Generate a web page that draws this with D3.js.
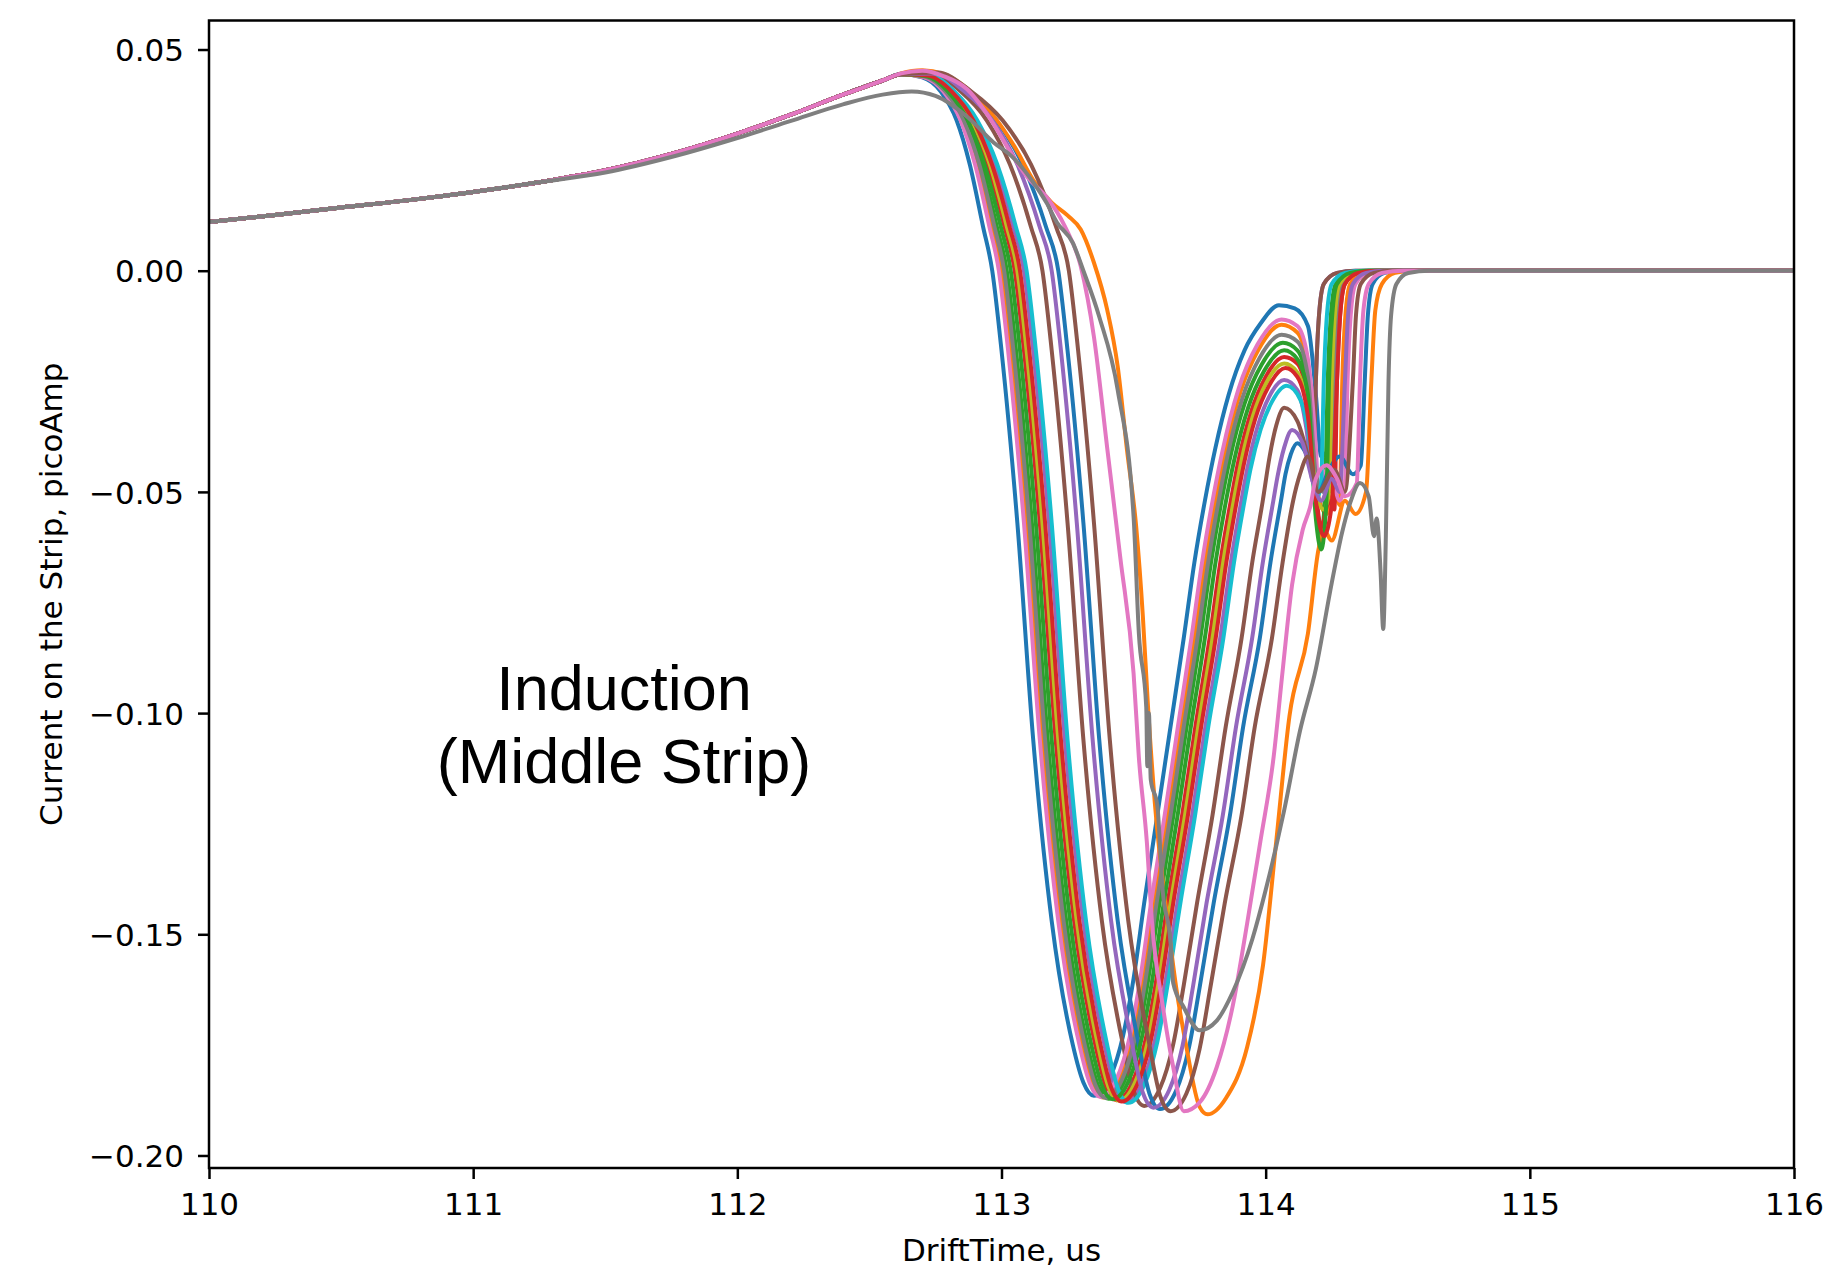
<!DOCTYPE html>
<html><head><meta charset="utf-8">
<script src="https://cdn.jsdelivr.net/npm/d3@7"></script>
<style>html,body{margin:0;padding:0;background:#fff;} svg{display:block;}</style>
</head><body>
<svg id="chart" width="1823" height="1268"></svg>
<script>
// ---------- text / ticks ----------
const xTicks = [110, 111, 112, 113, 114, 115, 116];
const xTickLabels = ["110", "111", "112", "113", "114", "115", "116"];
const yTicks = [0.05, 0.00, -0.05, -0.10, -0.15, -0.20];
const yTickLabels = ["0.05", "0.00", "\u22120.05", "\u22120.10", "\u22120.15", "\u22120.20"];
const xTitle = "DriftTime, us";
const yTitle = "Current on the Strip, picoAmp";
const noteLines = ["Induction", "(Middle Strip)"];
const palette = ["#1f77b4", "#ff7f0e", "#2ca02c", "#d62728", "#9467bd", "#8c564b", "#e377c2", "#7f7f7f", "#bcbd22", "#17becf"];

// ---------- data: [time (us), current (pA)] ----------
// shared slow rise, identical for all traces
const commonRise = [[110.0,0.0110],[110.25,0.0126],[110.5,0.0143],[110.75,0.0159],[111.0,0.0178],[111.25,0.0200],[111.5,0.0227],[111.75,0.0264],[112.0,0.0310],[112.2,0.0352],[112.4,0.0398],[112.55,0.0430]];

const blueA = [[112.62,0.0444],[112.70,0.0437],[112.77,0.0405],[112.83,0.0340],[112.88,0.0240],[112.93,0.0100],[112.965,0],[113.00,-0.018],[113.06,-0.057],[113.12,-0.106],[113.19,-0.147],[113.27,-0.175],[113.31,-0.1835],[113.35,-0.1865],[113.41,-0.1825],[113.46,-0.173],[113.50,-0.160],[113.54,-0.143],[113.59,-0.123],[113.64,-0.103],[113.69,-0.083],[113.73,-0.066],[113.77,-0.052],[113.81,-0.040],[113.86,-0.028],[113.92,-0.018],[113.98,-0.012],[114.05,-0.0078],[114.11,-0.0085],[114.16,-0.0125],[114.19,-0.028],[114.21,-0.042],[114.24,-0.040],[114.25,-0.025],[114.262,-0.010],[114.28,-0.003],[114.33,-0.0005],[114.40,0],[116,0]];
const orangeA = [[112.62,0.0444],[112.707,0.0438],[112.784,0.0405],[112.851,0.034],[112.908,0.024],[112.963,0.010],[113.0,0],[113.035,-0.018],[113.095,-0.057],[113.155,-0.106],[113.225,-0.147],[113.305,-0.175],[113.345,-0.1839],[113.385,-0.1869],[113.445,-0.1829],[113.495,-0.1734],[113.535,-0.1603],[113.577,-0.143],[113.629,-0.123],[113.679,-0.103],[113.73,-0.083],[113.77,-0.066],[113.81,-0.052],[113.845,-0.0413],[113.905,-0.0273],[113.973,-0.0178],[114.06,-0.0122],[114.12,-0.014],[114.16,-0.022],[114.19,-0.048],[114.23,-0.055],[114.26,-0.050],[114.28,-0.053],[114.29,-0.025],[114.302,-0.010],[114.32,-0.003],[114.37,-0.0005],[114.44,0],[116,0]];
const greenA = [[112.62,0.0444],[112.711,0.0439],[112.792,0.0405],[112.863,0.034],[112.924,0.024],[112.982,0.010],[113.02,0],[113.055,-0.018],[113.115,-0.057],[113.175,-0.106],[113.245,-0.147],[113.325,-0.175],[113.365,-0.1841],[113.405,-0.1872],[113.465,-0.1832],[113.515,-0.1736],[113.555,-0.1604],[113.598,-0.143],[113.651,-0.123],[113.701,-0.103],[113.753,-0.083],[113.793,-0.066],[113.833,-0.052],[113.865,-0.0424],[113.921,-0.0299],[113.984,-0.0213],[114.065,-0.0163],[114.12,-0.018],[114.16,-0.026],[114.19,-0.052],[114.21,-0.060],[114.225,-0.050],[114.235,-0.025],[114.247,-0.010],[114.265,-0.003],[114.31,-0.0005],[114.38,0],[116,0]];
const redA = [[112.62,0.0444],[112.717,0.044],[112.804,0.0405],[112.881,0.034],[112.948,0.024],[113.011,0.010],[113.05,0],[113.085,-0.018],[113.145,-0.057],[113.205,-0.106],[113.275,-0.147],[113.355,-0.175],[113.395,-0.1844],[113.435,-0.1875],[113.495,-0.1835],[113.545,-0.1739],[113.585,-0.1607],[113.629,-0.143],[113.684,-0.123],[113.734,-0.103],[113.788,-0.083],[113.828,-0.066],[113.868,-0.052],[113.896,-0.0432],[113.945,-0.0319],[114.0,-0.024],[114.07,-0.0195],[114.12,-0.021],[114.16,-0.030],[114.19,-0.050],[114.21,-0.058],[114.24,-0.052],[114.26,-0.054],[114.27,-0.025],[114.282,-0.010],[114.30,-0.003],[114.35,-0.0005],[114.42,0],[116,0]];
const purpleA = [[112.62,0.0444],[112.724,0.0442],[112.818,0.0405],[112.902,0.034],[112.976,0.024],[113.044,0.010],[113.085,0],[113.12,-0.018],[113.18,-0.057],[113.24,-0.106],[113.31,-0.147],[113.39,-0.175],[113.43,-0.1847],[113.47,-0.1879],[113.53,-0.1839],[113.58,-0.1742],[113.62,-0.161],[113.666,-0.143],[113.722,-0.123],[113.772,-0.103],[113.828,-0.083],[113.868,-0.066],[113.908,-0.052],[113.931,-0.0446],[113.97,-0.0351],[114.013,-0.0285],[114.07,-0.0247],[114.12,-0.027],[114.155,-0.036],[114.18,-0.048],[114.19,-0.025],[114.202,-0.010],[114.22,-0.003],[114.27,-0.0005],[114.34,0],[116,0]];
const brownA = [[112.62,0.0444],[112.738,0.0445],[112.846,0.0405],[112.944,0.034],[113.032,0.024],[113.111,0.010],[113.155,0],[113.19,-0.018],[113.25,-0.057],[113.31,-0.106],[113.38,-0.147],[113.46,-0.175],[113.50,-0.1854],[113.54,-0.1888],[113.60,-0.1848],[113.65,-0.1749],[113.69,-0.1615],[113.74,-0.143],[113.799,-0.123],[113.849,-0.103],[113.909,-0.083],[113.949,-0.066],[113.989,-0.052],[114.015,-0.042],[114.04,-0.035],[114.07,-0.031],[114.12,-0.034],[114.16,-0.042],[114.18,-0.047],[114.19,-0.025],[114.202,-0.010],[114.22,-0.003],[114.27,-0.0005],[114.34,0],[116,0]];
const pinkA = [[112.62,0.0444],[112.705,0.0438],[112.78,0.0405],[112.845,0.034],[112.90,0.024],[112.954,0.010],[112.99,0],[113.025,-0.018],[113.085,-0.057],[113.145,-0.106],[113.215,-0.147],[113.295,-0.175],[113.335,-0.1838],[113.375,-0.1868],[113.435,-0.1828],[113.485,-0.1733],[113.525,-0.1602],[113.566,-0.143],[113.618,-0.123],[113.668,-0.103],[113.719,-0.083],[113.759,-0.066],[113.799,-0.052],[113.836,-0.0409],[113.898,-0.0266],[113.969,-0.0167],[114.06,-0.011],[114.12,-0.0125],[114.16,-0.020],[114.19,-0.040],[114.20,-0.050],[114.24,-0.044],[114.28,-0.052],[114.30,-0.048],[114.31,-0.025],[114.322,-0.010],[114.34,-0.003],[114.39,-0.0005],[114.46,0],[116,0]];
const grayA = [[112.62,0.0444],[112.709,0.0439],[112.788,0.0405],[112.857,0.034],[112.916,0.024],[112.973,0.010],[113.01,0],[113.045,-0.018],[113.105,-0.057],[113.165,-0.106],[113.235,-0.147],[113.315,-0.175],[113.355,-0.184],[113.395,-0.187],[113.455,-0.183],[113.505,-0.1735],[113.545,-0.1604],[113.587,-0.143],[113.64,-0.123],[113.69,-0.103],[113.742,-0.083],[113.782,-0.066],[113.822,-0.052],[113.855,-0.0419],[113.912,-0.0288],[113.977,-0.0197],[114.06,-0.0145],[114.12,-0.016],[114.16,-0.024],[114.19,-0.046],[114.22,-0.050],[114.25,-0.047],[114.26,-0.025],[114.272,-0.010],[114.29,-0.003],[114.34,-0.0005],[114.41,0],[116,0]];
const oliveA = [[112.62,0.0444],[112.719,0.0441],[112.808,0.0405],[112.887,0.034],[112.956,0.024],[113.02,0.010],[113.06,0],[113.095,-0.018],[113.155,-0.057],[113.215,-0.106],[113.285,-0.147],[113.365,-0.175],[113.405,-0.1845],[113.445,-0.1876],[113.505,-0.1836],[113.555,-0.174],[113.595,-0.1608],[113.64,-0.143],[113.695,-0.123],[113.745,-0.103],[113.799,-0.083],[113.839,-0.066],[113.879,-0.052],[113.906,-0.0436],[113.952,-0.0328],[114.003,-0.0253],[114.07,-0.021],[114.12,-0.023],[114.16,-0.032],[114.19,-0.050],[114.22,-0.054],[114.24,-0.050],[114.25,-0.025],[114.262,-0.010],[114.28,-0.003],[114.33,-0.0005],[114.40,0],[116,0]];
const cyanA = [[112.62,0.0444],[112.726,0.0442],[112.822,0.0405],[112.908,0.034],[112.984,0.024],[113.054,0.010],[113.095,0],[113.13,-0.018],[113.19,-0.057],[113.25,-0.106],[113.32,-0.147],[113.40,-0.175],[113.44,-0.1848],[113.48,-0.1881],[113.54,-0.1841],[113.59,-0.1743],[113.63,-0.161],[113.677,-0.143],[113.733,-0.123],[113.783,-0.103],[113.84,-0.083],[113.88,-0.066],[113.92,-0.052],[113.942,-0.045],[113.981,-0.0359],[114.024,-0.0296],[114.08,-0.026],[114.13,-0.029],[114.17,-0.040],[114.19,-0.052],[114.21,-0.048],[114.22,-0.025],[114.232,-0.010],[114.25,-0.003],[114.30,-0.0005],[114.37,0],[116,0]];
const blueB = [[112.62,0.0445],[112.75,0.0447],[112.87,0.0405],[112.98,0.034],[113.08,0.024],[113.168,0.010],[113.215,0],[113.25,-0.018],[113.31,-0.057],[113.37,-0.106],[113.44,-0.147],[113.52,-0.175],[113.56,-0.186],[113.60,-0.1895],[113.66,-0.1855],[113.71,-0.1755],[113.75,-0.162],[113.803,-0.143],[113.865,-0.123],[113.915,-0.103],[113.978,-0.083],[114.018,-0.066],[114.058,-0.052],[114.075,-0.046],[114.095,-0.0415],[114.12,-0.039],[114.15,-0.041],[114.20,-0.050],[114.24,-0.045],[114.28,-0.042],[114.33,-0.046],[114.36,-0.044],[114.375,-0.025],[114.387,-0.010],[114.405,-0.003],[114.45,-0.0005],[114.52,0],[116,0]];
const orangeB = [[112.62,0.0446],[112.70,0.0453],[112.78,0.0445],[112.87,0.0412],[112.97,0.0350],[113.05,0.0280],[113.12,0.0205],[113.19,0.0154],[113.25,0.0125],[113.30,0.0093],[113.35,0.0018],[113.40,-0.0088],[113.44,-0.0217],[113.475,-0.0405],[113.51,-0.058],[113.535,-0.078],[113.555,-0.099],[113.58,-0.120],[113.63,-0.1475],[113.66,-0.1615],[113.70,-0.1755],[113.75,-0.189],[113.78,-0.1907],[113.85,-0.187],[113.93,-0.1755],[113.99,-0.157],[114.04,-0.129],[114.09,-0.1007],[114.16,-0.082],[114.20,-0.063],[114.22,-0.0586],[114.25,-0.061],[114.30,-0.052],[114.34,-0.055],[114.38,-0.050],[114.40,-0.025],[114.415,-0.009],[114.44,-0.003],[114.49,-0.0005],[114.56,0],[116,0]];
const greenB = [[112.62,0.0444],[112.714,0.044],[112.798,0.0405],[112.872,0.034],[112.936,0.024],[112.997,0.010],[113.035,0],[113.07,-0.018],[113.13,-0.057],[113.19,-0.106],[113.26,-0.147],[113.34,-0.175],[113.38,-0.1842],[113.42,-0.1873],[113.48,-0.1833],[113.53,-0.1737],[113.57,-0.1606],[113.614,-0.143],[113.667,-0.123],[113.717,-0.103],[113.77,-0.083],[113.81,-0.066],[113.85,-0.052],[113.881,-0.0428],[113.934,-0.0309],[113.993,-0.0228],[114.07,-0.018],[114.12,-0.020],[114.16,-0.028],[114.19,-0.056],[114.21,-0.063],[114.23,-0.052],[114.24,-0.025],[114.252,-0.010],[114.27,-0.003],[114.32,-0.0005],[114.39,0],[116,0]];
const redB = [[112.62,0.0444],[112.721,0.0441],[112.812,0.0405],[112.893,0.034],[112.964,0.024],[113.03,0.010],[113.07,0],[113.105,-0.018],[113.165,-0.057],[113.225,-0.106],[113.295,-0.147],[113.375,-0.175],[113.415,-0.1846],[113.455,-0.1878],[113.515,-0.1838],[113.565,-0.1741],[113.605,-0.1608],[113.65,-0.143],[113.706,-0.123],[113.756,-0.103],[113.811,-0.083],[113.851,-0.066],[113.891,-0.052],[113.917,-0.0439],[113.961,-0.0334],[114.011,-0.0262],[114.075,-0.022],[114.12,-0.024],[114.16,-0.033],[114.19,-0.052],[114.22,-0.060],[114.25,-0.053],[114.27,-0.025],[114.282,-0.010],[114.30,-0.003],[114.35,-0.0005],[114.42,0],[116,0]];
const purpleB = [[112.62,0.0444],[112.745,0.0446],[112.86,0.0405],[112.965,0.034],[113.06,0.024],[113.144,0.010],[113.19,0],[113.225,-0.018],[113.285,-0.057],[113.345,-0.106],[113.415,-0.147],[113.495,-0.175],[113.535,-0.1858],[113.575,-0.1892],[113.635,-0.1852],[113.685,-0.1753],[113.725,-0.1618],[113.776,-0.143],[113.838,-0.123],[113.888,-0.103],[113.949,-0.083],[113.989,-0.066],[114.029,-0.052],[114.045,-0.0465],[114.07,-0.040],[114.10,-0.036],[114.14,-0.039],[114.18,-0.048],[114.21,-0.052],[114.25,-0.047],[114.28,-0.050],[114.30,-0.025],[114.312,-0.010],[114.33,-0.003],[114.38,-0.0005],[114.45,0],[116,0]];
const brownB = [[112.62,0.0444],[112.758,0.0448],[112.886,0.0405],[113.004,0.034],[113.112,0.024],[113.206,0.010],[113.255,0],[113.29,-0.018],[113.35,-0.057],[113.41,-0.106],[113.48,-0.147],[113.56,-0.175],[113.60,-0.1864],[113.64,-0.190],[113.70,-0.186],[113.75,-0.1759],[113.79,-0.1623],[113.845,-0.143],[113.909,-0.123],[113.959,-0.103],[114.024,-0.083],[114.064,-0.066],[114.104,-0.052],[114.13,-0.046],[114.16,-0.042],[114.20,-0.050],[114.26,-0.045],[114.30,-0.050],[114.33,-0.025],[114.342,-0.010],[114.36,-0.003],[114.41,-0.0005],[114.48,0],[116,0]];
const pinkB = [[112.62,0.0446],[112.70,0.0452],[112.78,0.0440],[112.87,0.0410],[112.95,0.0350],[113.04,0.0262],[113.10,0.0210],[113.17,0.0167],[113.24,0.0100],[113.30,0.0010],[113.35,-0.015],[113.40,-0.040],[113.45,-0.065],[113.50,-0.091],[113.52,-0.110],[113.55,-0.129],[113.57,-0.1475],[113.61,-0.166],[113.65,-0.180],[113.69,-0.190],[113.75,-0.188],[113.815,-0.180],[113.876,-0.166],[113.93,-0.1475],[113.98,-0.129],[114.03,-0.110],[114.065,-0.090],[114.10,-0.071],[114.14,-0.0586],[114.17,-0.053],[114.19,-0.047],[114.23,-0.044],[114.27,-0.047],[114.30,-0.051],[114.345,-0.048],[114.357,-0.025],[114.37,-0.009],[114.39,-0.003],[114.44,-0.0005],[114.52,0],[116,0]];
// last gray trace leaves the shared rise at 111.5
const grayB = [[111.5,0.0222],[111.75,0.0257],[112.0,0.0300],[112.2,0.0338],[112.4,0.0376],[112.55,0.0398],[112.66,0.0405],[112.75,0.0395],[112.87,0.0348],[112.97,0.0290],[113.04,0.0258],[113.12,0.0200],[113.17,0.0154],[113.21,0.0109],[113.27,0.0063],[113.31,0.0],[113.37,-0.0104],[113.44,-0.027],[113.50,-0.0556],[113.52,-0.082],[113.548,-0.0987],[113.552,-0.112],[113.558,-0.100],[113.565,-0.115],[113.59,-0.121],[113.61,-0.140],[113.64,-0.152],[113.65,-0.161],[113.69,-0.1665],[113.75,-0.1717],[113.815,-0.1695],[113.876,-0.163],[113.95,-0.151],[114.0,-0.140],[114.07,-0.122],[114.13,-0.104],[114.19,-0.090],[114.25,-0.0706],[114.29,-0.059],[114.32,-0.0525],[114.357,-0.048],[114.39,-0.051],[114.41,-0.060],[114.42,-0.056],[114.435,-0.068],[114.445,-0.081],[114.455,-0.060],[114.465,-0.025],[114.475,-0.010],[114.495,-0.003],[114.54,-0.0005],[114.62,0],[116,0]];

// plotting order (matplotlib colour cycle)
const traceTails = [blueA, orangeA, greenA, redA, purpleA, brownA, pinkA, grayA, oliveA, cyanA,
                    blueB, orangeB, greenB, redB, purpleB, brownB, pinkB, grayB];

// ---------- drawing ----------
const L = 209, R = 1794, T = 20.5, B = 1168;
const svg = d3.select("#chart");
const x = d3.scaleLinear().domain([110, 116]).range([L, R]);
const y = d3.scaleLinear().domain([-0.20283, 0.05656]).range([B, T]);

svg.append("defs").append("clipPath").attr("id", "clip")
  .append("rect").attr("x", L).attr("y", T).attr("width", R - L).attr("height", B - T);

const line = d3.line().x(d => x(d[0])).y(d => y(d[1])).curve(d3.curveMonotoneX);
const gLines = svg.append("g").attr("clip-path", "url(#clip)");
traceTails.forEach((tail, i) => {
  const start = tail[0][0];
  const pts = commonRise.filter(d => d[0] < start).concat(tail);
  gLines.append("path").attr("d", line(pts))
    .attr("fill", "none").attr("stroke", palette[i % 10])
    .attr("stroke-width", 4.0).attr("stroke-linejoin", "round").attr("stroke-linecap", "round");
});

const FONT = "'DejaVu Sans', sans-serif";
const FS = 31;
const gx = svg.append("g").attr("transform", `translate(0,${B})`)
  .call(d3.axisBottom(x).tickValues(xTicks).tickFormat((d, i) => xTickLabels[i]).tickSize(11).tickPadding(14));
const gy = svg.append("g").attr("transform", `translate(${L},0)`)
  .call(d3.axisLeft(y).tickValues(yTicks).tickFormat((d, i) => yTickLabels[i]).tickSize(11).tickPadding(14));
[gx, gy].forEach(g => {
  g.select(".domain").remove();
  g.selectAll(".tick line").attr("stroke", "#000").attr("stroke-width", 2.5);
  g.selectAll(".tick text").attr("fill", "#000").style("font-family", FONT).style("font-size", FS + "px");
});
gy.selectAll(".tick text").attr("dy", "0.36em");

svg.append("rect").attr("x", L).attr("y", T).attr("width", R - L).attr("height", B - T)
  .attr("fill", "none").attr("stroke", "#000").attr("stroke-width", 2.5);

svg.append("text").attr("x", (L + R) / 2).attr("y", 1261).attr("text-anchor", "middle")
  .style("font-family", FONT).style("font-size", FS + "px").attr("fill", "#000").text(xTitle);
svg.append("text").attr("transform", `translate(62,${(T + B) / 2}) rotate(-90)`).attr("text-anchor", "middle")
  .style("font-family", FONT).style("font-size", FS + "px").attr("fill", "#000").text(yTitle);

const note = svg.append("g");
noteLines.forEach((t, i) => {
  note.append("text").attr("x", 624).attr("y", 710 + i * 73).attr("text-anchor", "middle")
    .style("font-family", "'Liberation Sans', Arial, Helvetica, sans-serif").style("font-size", "63px")
    .attr("fill", "#000").text(t);
});
</script>
</body></html>
